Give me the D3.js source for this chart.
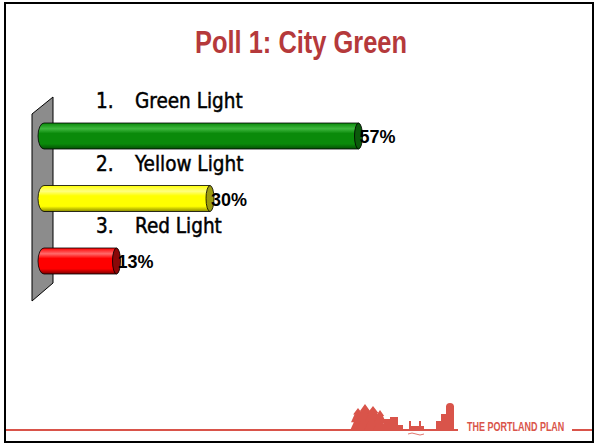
<!DOCTYPE html>
<html><head><meta charset="utf-8">
<script src="https://cdn.jsdelivr.net/npm/d3@7/dist/d3.min.js"></script>
<style>body{margin:0;background:#fff}svg{display:block}</style>
</head><body>
<script>
const categories = ["1.", "2.", "3."];
const labels = ["Green Light", "Yellow Light", "Red Light"];
const values = [57, 30, 13];
const valueLabels = ["57%", "30%", "13%"];
const fills = ["#0a8a0a", "#ffff00", "#ff0000"];
const lights = ["#3fb83f", "#ffff80", "#ff6a6a"];
const darks = ["#045004", "#8a8a00", "#7a0000"];
const caps = ["#0b5a0b", "#9a9a10", "#8a0808"];

const W = 595, H = 445;
const svg = d3.select("body").append("svg").attr("width", W).attr("height", H);

// frame
svg.append("rect").attr("x", 5).attr("y", 3).attr("width", 588).attr("height", 439)
  .attr("fill", "#fff").attr("stroke", "#000").attr("stroke-width", 2);

// title
svg.append("text").attr("x", 301).attr("y", 53).attr("text-anchor", "middle")
  .attr("font-family", "'Liberation Sans Narrow', 'Arial Narrow', sans-serif")
  .attr("font-weight", "bold").attr("font-size", 31).attr("fill", "#b5393b")
  .attr("textLength", 212).attr("lengthAdjust", "spacingAndGlyphs")
  .text("Poll 1: City Green");

const x = d3.scaleLinear().domain([0, 60]).range([45, 375]);
const y = d3.scalePoint().domain(categories).range([136, 261]);
const bh = 26;

// gradients
const defs = svg.append("defs");
categories.forEach((c, i) => {
  const g = defs.append("linearGradient").attr("id", "g" + i)
    .attr("x1", 0).attr("y1", 0).attr("x2", 0).attr("y2", 1);
  g.append("stop").attr("offset", "0%").attr("stop-color", fills[i]);
  g.append("stop").attr("offset", "22%").attr("stop-color", lights[i]);
  g.append("stop").attr("offset", "40%").attr("stop-color", fills[i]);
  g.append("stop").attr("offset", "80%").attr("stop-color", fills[i]);
  g.append("stop").attr("offset", "100%").attr("stop-color", darks[i]);
});

// wall
svg.append("path").attr("d", "M32,114 L53,97 L53,283 L32,301 Z")
  .attr("fill", "#8c8c8c").attr("stroke", "#000").attr("stroke-width", 1);

// bars (cylinders)
const rxL = 6, rxR = 4;
const bars = svg.append("g").selectAll("g").data(values).join("g");
bars.append("path")
  .attr("d", (d, i) => {
    const x0 = x(0) - 1, x1 = x(d), cy = y(categories[i]), t = cy - bh / 2, b = cy + bh / 2;
    return `M${x0},${t} L${x1},${t} L${x1},${b} L${x0},${b} A${rxL},${bh/2} 0 0 1 ${x0},${t} Z`;
  })
  .attr("fill", (d, i) => `url(#g${i})`).attr("stroke", "#000").attr("stroke-width", 0.8);
bars.append("ellipse")
  .attr("cx", d => x(d)).attr("cy", (d, i) => y(categories[i]))
  .attr("rx", rxR).attr("ry", bh / 2)
  .attr("fill", (d, i) => caps[i]).attr("stroke", "#000").attr("stroke-width", 0.8);

// value labels
svg.append("g").selectAll("text").data(values).join("text")
  .attr("x", d => x(d) + 1).attr("y", (d, i) => y(categories[i]) + 7)
  .attr("font-family", "'Liberation Sans', Arial, sans-serif").attr("font-weight", "bold")
  .attr("font-size", 18).attr("fill", "#000")
  .text((d, i) => valueLabels[i]);

// category labels
const lab = svg.append("g").attr("font-family", "'DejaVu Sans Condensed', 'DejaVu Sans', sans-serif")
  .attr("font-size", 20.5).attr("fill", "#000").attr("stroke", "#000").attr("stroke-width", 0.45);
lab.selectAll("text.num").data(categories).join("text").attr("class", "num")
  .attr("x", 96).attr("y", c => y(c) - 28).text(c => c);
lab.selectAll("text.lbl").data(labels).join("text").attr("class", "lbl")
  .attr("x", 135).attr("y", (l, i) => y(categories[i]) - 28).text(l => l);

// footer
const red = "#d9544a";
svg.append("line").attr("x1", 6).attr("x2", 458).attr("y1", 430).attr("y2", 430)
  .attr("stroke", red).attr("stroke-width", 2);
svg.append("line").attr("x1", 572).attr("x2", 592).attr("y1", 430).attr("y2", 430)
  .attr("stroke", red).attr("stroke-width", 2);
svg.append("text").attr("transform", "translate(467,431) scale(0.72,1)")
  .attr("font-family", "'Liberation Sans', Arial, sans-serif")
  .attr("font-weight", "bold").attr("font-size", 12.5).attr("fill", red)
  .text("THE PORTLAND PLAN");

// skyline decoration
const sk = svg.append("g").attr("fill", red);
const tree = (cx, top, w) => {
  const h = 430 - top;
  return `M${cx},${top} L${cx + w * 0.35},${top + h * 0.3} L${cx + w * 0.25},${top + h * 0.3} L${cx + w * 0.5},${top + h * 0.65} L${cx + w * 0.3},${top + h * 0.65} L${cx + w * 0.55},430 L${cx - w * 0.55},430 L${cx - w * 0.3},${top + h * 0.65} L${cx - w * 0.5},${top + h * 0.65} L${cx - w * 0.25},${top + h * 0.3} L${cx - w * 0.35},${top + h * 0.3} Z`;
};
[[358, 408, 14], [365, 404, 16], [373, 406, 16], [380, 410, 12]].forEach(t =>
  sk.append("path").attr("d", tree(...t)));
[[384, 419, 6, 11], [390, 417, 8, 13], [397, 425, 6, 5], [409, 421, 2, 9], [411, 426, 9, 4],
 [419, 421, 2, 9], [420, 426, 4, 4], [436, 421, 6, 9], [441, 414, 6, 16], [446, 406, 8, 24]]
  .forEach(b => sk.append("rect").attr("x", b[0]).attr("y", b[1]).attr("width", b[2]).attr("height", b[3]));
sk.append("circle").attr("cx", 450).attr("cy", 407).attr("r", 4);
sk.append("path").attr("d", "M408,434 Q412,432 416,434 Q420,436 424,434").attr("fill", "none")
  .attr("stroke", red).attr("stroke-width", 0.8);
</script>
</body></html>
